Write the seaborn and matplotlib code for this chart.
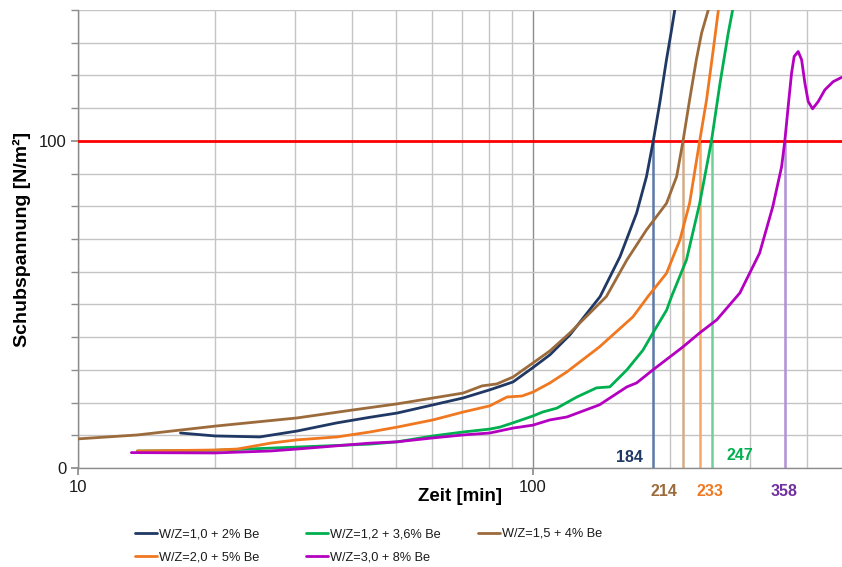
import matplotlib
matplotlib.use("Agg")
import matplotlib.pyplot as plt
import seaborn as sns
import pandas as pd
from matplotlib.ticker import FixedLocator, NullFormatter
from matplotlib.lines import Line2D
from matplotlib import font_manager

sns.set_theme(style="white")
plt.rcParams['font.family'] = ['Liberation Sans', 'DejaVu Sans']

# ---- data ----
labels = ["W/Z=1,0 + 2% Be", "W/Z=1,2 + 3,6% Be", "W/Z=1,5 + 4% Be",
          "W/Z=2,0 + 5% Be", "W/Z=3,0 + 8% Be"]
colors = ["#1F3864", "#00B050", "#9C6B3C", "#F07820", "#B400C0"]
drop_colors = ["#5A78A8", "#70D098", "#D4AC86", "#F8A868", "#B090D8"]
label_colors = ["#1F3864", "#00B050", "#9C6B3C", "#F07820", "#7030A0"]

t_wz10 = [16.8, 20, 25.1, 30.3, 37.1, 43.8, 50.3, 60.3, 70.2, 80.4, 90.4, 100, 109,
          120.6, 140.5, 155.4, 169, 177.7, 183.9, 190, 196.6, 201.7, 205]
v_wz10 = [10.7, 9.8, 9.5, 11.3, 13.8, 15.5, 16.8, 19.3, 21.4, 23.9, 26.3, 30.7, 34.6,
          40.7, 52.4, 64.6, 77.9, 89.1, 100, 111.5, 124.8, 133.9, 140]

t_wz12 = [13.5, 20, 30.3, 43.8, 50.3, 60.3, 70.2, 80.4, 84.6, 90.4, 100, 105, 112.9,
          124.9, 138, 147.6, 160.9, 174.5, 183.6, 196.8, 201.7, 217.5, 232.6, 246.9,
          257.8, 268.8, 274.8]
v_wz12 = [5.2, 5.4, 6.4, 7.3, 8.0, 9.8, 11.0, 11.9, 12.5, 13.8, 15.9, 17.1, 18.3,
          21.7, 24.5, 24.8, 30.0, 36.0, 41.3, 48.3, 52.4, 63.6, 80.9, 100,
          117.6, 133, 140]

t_wz15 = [10, 13.5, 20, 30.3, 40, 50.3, 60.3, 70.2, 77.3, 83.3, 90.4, 100, 109,
          120.6, 145, 160.9, 177.7, 196.6, 207, 213.8, 221, 228.7, 234.9, 242.9]
v_wz15 = [8.9, 10.1, 12.8, 15.3, 17.7, 19.6, 21.4, 22.9, 25.1, 25.7, 27.8, 32.1, 35.8,
          41.3, 52.4, 63.6, 72.8, 80.9, 89.1, 100, 112.5, 124.8, 133, 140]

t_wz20 = [13.5, 20, 22.4, 26.5, 30.3, 37.1, 43.8, 50.3, 60.3, 70.2, 80.4, 87.7, 94.6,
          100, 109, 118.8, 140, 165.9, 179, 196.6, 210.4, 221, 232.6, 240.8, 249.1,
          255.7]
v_wz20 = [5.2, 5.5, 5.8, 7.6, 8.6, 9.5, 11.0, 12.5, 14.7, 17.1, 19.0, 21.7, 22.0,
          23.2, 26.0, 29.4, 37.0, 46.2, 52.4, 59.5, 69.7, 80.9, 100, 112.5, 127.8,
          140]

t_wz30 = [13.1, 20, 26.5, 30.3, 43.8, 50.3, 60.3, 70.2, 80.4, 90.4, 100, 109, 118.8,
          140, 160.9, 169, 183.6, 213.6, 232.6, 253.6, 285, 315, 336.6, 352.1, 357.9,
          364, 370.3, 375.2, 382.9, 389.6, 396.2, 402.9, 411.9, 423.7, 438.3, 457.1,
          477]
v_wz30 = [4.7, 4.6, 5.2, 5.8, 7.6, 8.0, 9.2, 10.1, 10.7, 12.2, 13.1, 14.7, 15.6,
          19.3, 24.8, 26.0, 30.0, 37.0, 41.3, 45.3, 53.5, 65.7, 79.8, 92.1, 100,
          110.5, 120.7, 125.8, 127.3, 124.8, 117.6, 112.0, 109.8, 112.0, 115.6, 118.1,
          119.4]

crossing_times = [184, 247, 214, 233, 358]
limit_value = 100

series_t = [t_wz10, t_wz12, t_wz15, t_wz20, t_wz30]
series_v = [v_wz10, v_wz12, v_wz15, v_wz20, v_wz30]

frames = []
for lab, tt, vv in zip(labels, series_t, series_v):
    frames.append(pd.DataFrame({"Zeit": tt, "Spannung": vv, "Serie": lab}))
df = pd.concat(frames, ignore_index=True)

W, H = 842, 567
fig = plt.figure(figsize=(W / 100, H / 100), dpi=100)
ax = fig.add_axes([78 / W, 1 - 468 / H, 1 - 78 / W, (468 - 10) / H])

ax.set_xscale("log")
ax.set_xlim(10, 478)
ax.set_ylim(0, 140)

# grid / ticks
ax.set_axisbelow(True)
ax.xaxis.set_major_locator(FixedLocator([10, 100]))
ax.xaxis.set_minor_locator(FixedLocator([20, 30, 40, 50, 60, 70, 80, 90, 200, 300, 400]))
ax.xaxis.set_minor_formatter(NullFormatter())
ax.set_xticks([10, 100])
ax.set_xticklabels(["10", "100"])
ax.yaxis.set_major_locator(FixedLocator([0, 100]))
ax.yaxis.set_minor_locator(FixedLocator([10, 20, 30, 40, 50, 60, 70, 80, 90, 110, 120, 130, 140]))
ax.set_yticklabels(["0", "100"])
ax.grid(which="minor", axis="both", color="#C4C4C4", linewidth=1.0)
ax.grid(which="major", axis="x", color="#8C8C8C", linewidth=1.0)
ax.grid(which="major", axis="y", color="#C4C4C4", linewidth=1.0)

for s in ["top", "right"]:
    ax.spines[s].set_visible(False)
for s in ["left", "bottom"]:
    ax.spines[s].set_color("#8C8C8C")
    ax.spines[s].set_linewidth(1.0)

ax.tick_params(axis="both", which="major", length=5, color="#8C8C8C", labelsize=12,
               labelcolor="#1A1A1A", direction="out", bottom=True, left=True)
ax.tick_params(axis="y", which="minor", length=5, color="#8C8C8C", left=True)
ax.tick_params(axis="x", which="minor", length=0)

# drop lines from the limit down to the axis
for tc, dc in zip(crossing_times, drop_colors):
    ax.plot([tc, tc], [0, limit_value], color=dc, linewidth=1.8, zorder=2)

# limit line
ax.axhline(limit_value, color="#FF0000", linewidth=2.0, zorder=3)

palette = dict(zip(labels, colors))
sns.lineplot(data=df, x="Zeit", y="Spannung", hue="Serie", palette=palette,
             hue_order=labels, linewidth=2.0, sort=False, estimator=None,
             ax=ax, legend=False, zorder=4)

# crossing annotations: (time, colour, x offset px, y offset px, ha)
ann = [(184, label_colors[0], -11, 10, "right"),
       (247, label_colors[1], 15, 13, "left"),
       (214, label_colors[2], -6, -23, "right"),
       (233, label_colors[3], -4, -23, "left"),
       (358, label_colors[4], -1, -23, "center")]
for tc, col, dx, dy, ha in ann:
    ax.annotate(str(tc), xy=(tc, 0), xycoords=("data", "axes fraction"),
                xytext=(dx, dy), textcoords="offset pixels", color=col,
                fontsize=11.5, fontweight="bold", ha=ha, va="center",
                annotation_clip=False)

ax.set_xlabel("Zeit [min]", fontsize=13.5, fontweight="bold", color="#000000", labelpad=-5)
ax.set_ylabel("Schubspannung [N/m²]", fontsize=14, fontweight="bold", color="#000000",
              labelpad=5)

# legend: three columns placed like the reference
try:
    font_manager.findfont("Liberation Sans Narrow", fallback_to_default=False)
    leg_prop = {"family": "Liberation Sans Narrow", "size": 11}
except Exception:
    leg_prop = {"family": "Liberation Sans", "size": 9.2}
fs_px = leg_prop["size"] * 100 / 72
columns = [([0, 3], 135, 546), ([1, 4], 306, 546), ([2], 478, 534)]
for idx, xpx, ypx in columns:
    handles = [Line2D([0], [0], color=colors[i], linewidth=2) for i in idx]
    lg = fig.legend(handles, [labels[i] for i in idx], loc="center left",
                    bbox_to_anchor=(xpx / W, 1 - ypx / H), frameon=False,
                    prop=leg_prop, handlelength=22 / fs_px, handletextpad=2 / fs_px,
                    borderpad=0, borderaxespad=0, labelspacing=11.5 / fs_px)
    for txt in lg.get_texts():
        txt.set_color("#1A1A1A")

fig.savefig("out.png", dpi=100)
